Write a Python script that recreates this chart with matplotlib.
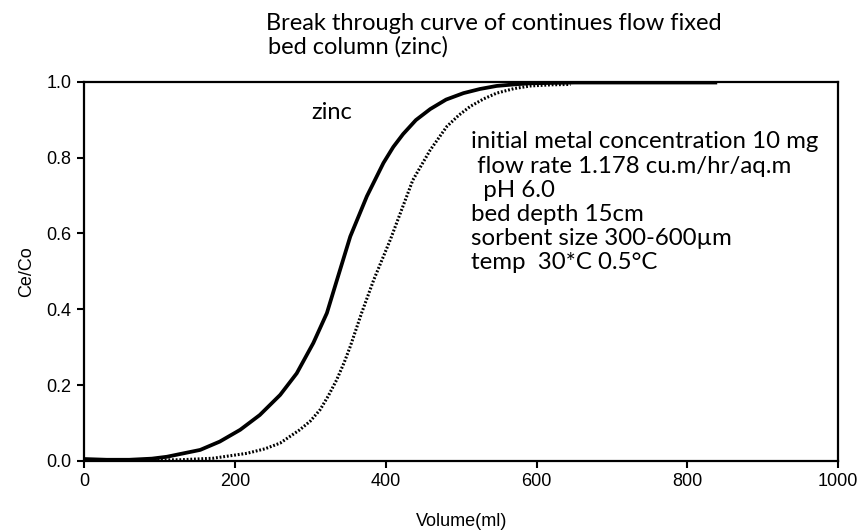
import matplotlib.pyplot as plt

# Breakthrough data, zinc on the fixed bed column
vol_solid = [0, 30, 60, 90, 110, 127, 154, 180, 207, 233, 260, 282, 304, 322,
             335, 353, 375, 397, 410, 423, 440, 459, 480, 503, 525, 547, 570,
             592, 650, 750, 837]
ce_solid = [0.005, 0.003, 0.003, 0.006, 0.011, 0.018, 0.029, 0.051, 0.082,
            0.121, 0.174, 0.231, 0.311, 0.39, 0.475, 0.592, 0.698, 0.786,
            0.828, 0.862, 0.899, 0.928, 0.953, 0.970, 0.981, 0.989, 0.993,
            0.996, 0.998, 0.998, 0.998]

vol_dot = [0, 60, 127, 171, 216, 240, 260, 286, 300, 313, 324, 335, 345, 353,
           368, 384, 406, 421, 436, 459, 481, 497, 512, 530, 547, 570, 592,
           620, 645]
ce_dot = [0.003, 0.002, 0.003, 0.007, 0.020, 0.032, 0.047, 0.082, 0.105, 0.135,
          0.172, 0.214, 0.26, 0.302, 0.39, 0.477, 0.583, 0.662, 0.741, 0.82,
          0.882, 0.912, 0.935, 0.955, 0.970, 0.982, 0.989, 0.992, 0.993]

conditions = ["initial metal concentration 10 mg",
              " flow rate 1.178 cu.m/hr/aq.m",
              "  pH 6.0",
              "bed depth 15cm",
              "sorbent size 300-600\u00b5m",
              "temp  30*C 0.5\u00b0C"]

plt.rcParams["font.family"] = ["Liberation Sans", "DejaVu Sans"]

fig = plt.figure(figsize=(8.61, 5.31), dpi=100)
ax = fig.add_axes([0.0976, 0.132, 0.876, 0.714])

ax.plot(vol_solid, ce_solid, color="black", lw=2.7, solid_joinstyle="round")
ax.plot(vol_dot, ce_dot, color="black", lw=2.2, linestyle=(0, (0.6, 0.6)))

ax.set_xlim(0, 1000)
ax.set_ylim(0, 1.0)
ax.set_xticks([0, 200, 400, 600, 800, 1000])
ax.set_yticks([0.0, 0.2, 0.4, 0.6, 0.8, 1.0])
ax.set_yticklabels(["0.0", "0.2", "0.4", "0.6", "0.8", "1.0"])
ax.tick_params(direction="out", length=5, width=1.5, labelsize=13, pad=4)
for s in ax.spines.values():
    s.set_linewidth(1.6)

ax.set_xlabel("Volume(ml)", fontsize=13, labelpad=16)
ax.set_ylabel("Ce/Co", fontsize=13, labelpad=8)

note_font = ["Lato", "DejaVu Sans"]
ax.text(328, 0.92, "zinc", ha="center", va="center", fontsize=17, family=note_font)
for i, line in enumerate(conditions):
    ax.text(513, (461 - 142 - 24.2 * i) / 379, line, ha="left", va="center",
            fontsize=17.3, family=note_font)

fig.text(266 / 861, 1 - 24 / 531, "Break through curve of continues flow fixed",
         ha="left", va="center", fontsize=17, family=note_font)
fig.text(268 / 861, 1 - 47 / 531, "bed column (zinc)",
         ha="left", va="center", fontsize=17, family=note_font)

fig.savefig("out.png", dpi=100)
